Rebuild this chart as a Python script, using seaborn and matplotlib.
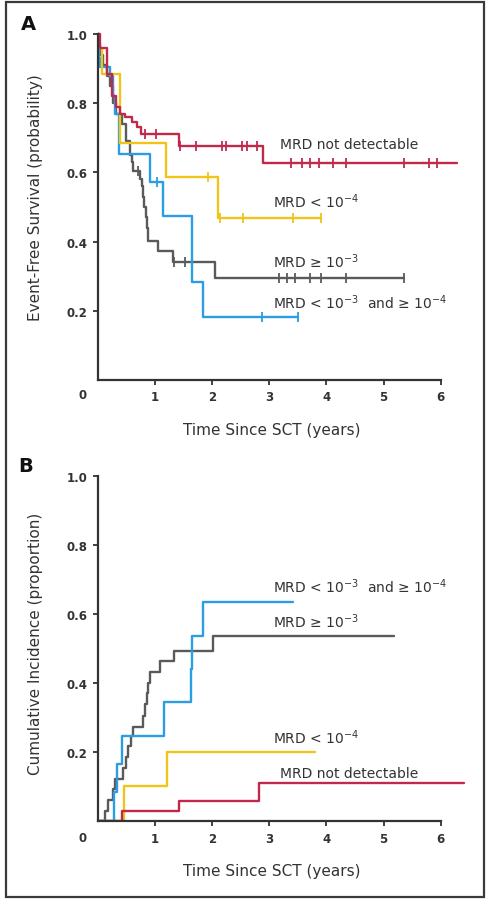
import numpy as np
import pandas as pd
import matplotlib
matplotlib.use("Agg")
import matplotlib.pyplot as plt
from matplotlib.patches import Rectangle
import seaborn as sns

# ---------------- data ----------------
groups = ["MRD not detectable", "MRD < 10-4", "MRD >= 10-3", "MRD < 10-3 and >= 10-4"]
colors = {"MRD not detectable": "#c0294c", "MRD < 10-4": "#f0c419",
          "MRD >= 10-3": "#5a5a5a", "MRD < 10-3 and >= 10-4": "#2a9de3"}

# Panel A: event-free survival (step times, survival after step, end of follow-up, censor times)
efs_red_t = [0, 0.04, 0.17, 0.25, 0.32, 0.39, 0.48, 0.60, 0.69, 0.76, 1.42, 2.89]
efs_red_s = [1.0, 0.96, 0.885, 0.82, 0.79, 0.77, 0.76, 0.746, 0.73, 0.71, 0.675, 0.627]
efs_red_end = 6.28
efs_red_cens = [0.83, 1.03, 1.45, 1.73, 2.17, 2.24, 2.52, 2.61, 2.78, 3.38, 3.57,
                3.72, 3.88, 4.12, 4.34, 5.35, 5.79, 5.93]

efs_yel_t = [0, 0.03, 0.07, 0.39, 1.19, 2.11]
efs_yel_s = [1.0, 0.96, 0.885, 0.686, 0.586, 0.468]
efs_yel_end = 3.9
efs_yel_cens = [1.93, 2.14, 2.55, 3.42, 3.9]

efs_gry_t = [0, 0.02, 0.05, 0.10, 0.17, 0.22, 0.27, 0.33, 0.42, 0.50, 0.57, 0.60, 0.62,
             0.75, 0.77, 0.79, 0.81, 0.84, 0.86, 0.89, 1.06, 1.32, 2.05]
efs_gry_s = [1.0, 0.97, 0.94, 0.91, 0.88, 0.85, 0.80, 0.77, 0.74, 0.69, 0.65, 0.63, 0.605,
             0.58, 0.56, 0.53, 0.50, 0.47, 0.44, 0.403, 0.372, 0.342, 0.295]
efs_gry_end = 5.35
efs_gry_cens = [0.71, 1.33, 1.53, 3.18, 3.32, 3.45, 3.72, 3.90, 4.34, 5.35]

efs_blu_t = [0, 0.02, 0.05, 0.22, 0.27, 0.31, 0.37, 0.92, 1.15, 1.65, 1.85]
efs_blu_s = [1.0, 0.93, 0.905, 0.88, 0.82, 0.77, 0.653, 0.572, 0.475, 0.282, 0.181]
efs_blu_end = 3.5
efs_blu_cens = [1.04, 2.88, 3.5]

# Panel B: cumulative incidence
ci_red_t = [0, 0.42, 1.42, 2.83]
ci_red_v = [0, 0.031, 0.06, 0.111]
ci_red_end = 6.41

ci_yel_t = [0, 0.46, 1.21]
ci_yel_v = [0, 0.103, 0.20]
ci_yel_end = 3.8

ci_gry_t = [0, 0.13, 0.19, 0.27, 0.31, 0.45, 0.50, 0.54, 0.58, 0.62, 0.80, 0.83, 0.86,
            0.89, 0.92, 1.09, 1.33, 2.02]
ci_gry_v = [0, 0.031, 0.062, 0.093, 0.124, 0.155, 0.186, 0.217, 0.248, 0.272, 0.306,
            0.34, 0.37, 0.40, 0.431, 0.463, 0.494, 0.536]
ci_gry_end = 5.19

ci_blu_t = [0, 0.29, 0.34, 0.42, 1.16, 1.63, 1.66, 1.85]
ci_blu_v = [0, 0.085, 0.166, 0.248, 0.346, 0.44, 0.537, 0.634]
ci_blu_end = 3.41

x_ticks = [1, 2, 3, 4, 5, 6]
y_ticks = [0.2, 0.4, 0.6, 0.8, 1.0]
y_tick_labels = ["0.2", "0.4", "0.6", "0.8", "1.0"]

# ---------------- styling ----------------
sns.set_theme(style="ticks")
plt.rcParams["font.family"] = ["DejaVu Sans"]
TXT = "#333333"
AX = "#333333"

fig = plt.figure(figsize=(4.88, 9.04), dpi=100)
axA = fig.add_axes([0.1998, 0.5785, 0.7619, 0.4019])
axB = fig.add_axes([0.1998, 0.0902, 0.7619, 0.4017])


def step_frame(t, v, end, name):
    xs = list(t) + [end]
    ys = list(v) + [v[-1]]
    return pd.DataFrame({"time": xs, "value": ys, "group": name, "order": range(len(xs))})


def censor_frame(t, v, cens, name):
    t = np.asarray(t)
    v = np.asarray(v)
    idx = np.searchsorted(t, cens, side="right") - 1
    return pd.DataFrame({"time": cens, "value": v[idx], "group": name})


efs_series = [
    ("MRD >= 10-3", efs_gry_t, efs_gry_s, efs_gry_end, efs_gry_cens),
    ("MRD < 10-3 and >= 10-4", efs_blu_t, efs_blu_s, efs_blu_end, efs_blu_cens),
    ("MRD < 10-4", efs_yel_t, efs_yel_s, efs_yel_end, efs_yel_cens),
    ("MRD not detectable", efs_red_t, efs_red_s, efs_red_end, efs_red_cens),
]
for name, t, s, end, cens in efs_series:
    df = step_frame(t, s, end, name)
    sns.lineplot(data=df, x="time", y="value", ax=axA, color=colors[name], lw=1.7,
                 estimator=None, sort=False, drawstyle="steps-post", legend=False)
    cf = censor_frame(t, s, cens, name)
    sns.scatterplot(data=cf, x="time", y="value", ax=axA, marker="|", s=45,
                    color=colors[name], linewidth=1.3, legend=False, zorder=3)

ci_series = [
    ("MRD >= 10-3", ci_gry_t, ci_gry_v, ci_gry_end),
    ("MRD < 10-3 and >= 10-4", ci_blu_t, ci_blu_v, ci_blu_end),
    ("MRD < 10-4", ci_yel_t, ci_yel_v, ci_yel_end),
    ("MRD not detectable", ci_red_t, ci_red_v, ci_red_end),
]
for name, t, v, end in ci_series:
    df = step_frame(t, v, end, name)
    sns.lineplot(data=df, x="time", y="value", ax=axB, color=colors[name], lw=1.7,
                 estimator=None, sort=False, drawstyle="steps-post", legend=False)

for ax in (axA, axB):
    ax.set_xlim(0, 6.5)
    ax.set_ylim(0, 1.05)
    sns.despine(ax=ax)
    ax.spines["left"].set_bounds(0, 1.0)
    ax.spines["bottom"].set_bounds(0, 6)
    for sp in ("left", "bottom"):
        ax.spines[sp].set_linewidth(1.6)
        ax.spines[sp].set_color(AX)
    ax.set_xticks(x_ticks)
    ax.set_xticklabels([str(v) for v in x_ticks])
    ax.set_yticks(y_ticks)
    ax.set_yticklabels(y_tick_labels)
    ax.tick_params(axis="both", direction="out", length=3.5, width=1.3, color=AX,
                   labelsize=8.5, labelcolor=TXT, pad=4)
    for lab in ax.get_xticklabels() + ax.get_yticklabels():
        lab.set_fontweight("bold")
    ax.set_xlabel("Time Since SCT (years)", fontsize=11, color=TXT)
    ax.xaxis.set_label_coords(0.4685, -0.135)
    ax.xaxis.label.set_va("center")
    ax.patch.set_alpha(0)

axA.set_ylabel("Event-Free Survival (probability)", fontsize=11, color=TXT)
axA.yaxis.set_label_coords(-0.168, 0.505)
axA.yaxis.label.set_va("center")
axB.set_ylabel("Cumulative Incidence (proportion)", fontsize=11, color=TXT)
axB.yaxis.set_label_coords(-0.168, 0.4916)
axB.yaxis.label.set_va("center")

lab_kw = dict(fontsize=10, color=TXT, ha="left", va="baseline")
axA.text(3.19, 0.6705, "MRD not detectable", **lab_kw)
axA.text(3.06, 0.501, r"MRD < 10$^{\mathregular{-4}}$", **lab_kw)
axA.text(3.06, 0.3275, r"MRD ≥ 10$^{\mathregular{-3}}$", **lab_kw)
axA.text(3.06, 0.208, r"MRD < 10$^{\mathregular{-3}}$  and ≥ 10$^{\mathregular{-4}}$", **lab_kw)

axB.text(3.06, 0.663, r"MRD < 10$^{\mathregular{-3}}$  and ≥ 10$^{\mathregular{-4}}$", **lab_kw)
axB.text(3.06, 0.5616, r"MRD ≥ 10$^{\mathregular{-3}}$", **lab_kw)
axB.text(3.06, 0.226, r"MRD < 10$^{\mathregular{-4}}$", **lab_kw)
axB.text(3.19, 0.128, "MRD not detectable", **lab_kw)

# origin "0" labels and panel letters
fig.text(83 / 488, 1 - 396 / 904, "0", fontsize=8.5, fontweight="bold", color=TXT,
         ha="center", va="center")
fig.text(83 / 488, 1 - 838 / 904, "0", fontsize=8.5, fontweight="bold", color=TXT,
         ha="center", va="center")
fig.text(28 / 488, 1 - 25 / 904, "A", fontsize=14, fontweight="bold", color="#111111",
         ha="center", va="center")
fig.text(26 / 488, 1 - 467 / 904, "B", fontsize=14, fontweight="bold", color="#111111",
         ha="center", va="center")

# outer frame
fig.patches.append(Rectangle((6 / 488, 6 / 904), 478 / 488, 895 / 904,
                             transform=fig.transFigure, fill=False,
                             edgecolor="#3a3a3a", linewidth=1.6))

fig.savefig("out.png", dpi=100, facecolor="white")
